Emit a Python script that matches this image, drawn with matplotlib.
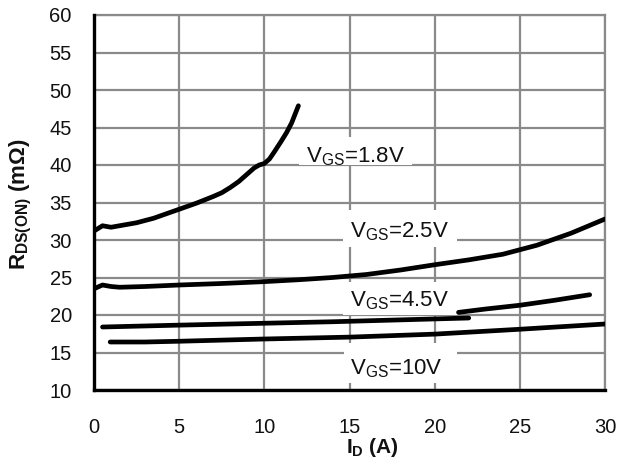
import numpy as np
import matplotlib
matplotlib.use('Agg')
import matplotlib.pyplot as plt
from matplotlib.patches import Rectangle

plt.rcParams['font.family'] = ['Liberation Sans', 'DejaVu Sans']
plt.rcParams['mathtext.fontset'] = 'custom'
plt.rcParams['mathtext.rm'] = 'Liberation Sans'
plt.rcParams['mathtext.bf'] = 'Liberation Sans:bold'
plt.rcParams['mathtext.it'] = 'Liberation Sans:italic'

# RDS(ON) vs ID
id_18 = [0.0, 0.5, 1.0, 1.5, 2.5, 3.5, 4.5, 5.0, 6.0, 7.0, 7.5, 8.0, 8.5, 9.0, 9.4,
         9.7, 10.0, 10.3, 10.6, 11.0, 11.3, 11.6, 12.0]
r_18 = [31.2, 31.9, 31.7, 31.9, 32.3, 32.9, 33.7, 34.1, 34.9, 35.8, 36.3, 37.0, 37.8,
        38.8, 39.6, 40.0, 40.2, 40.8, 41.8, 43.2, 44.3, 45.6, 47.9]

id_25 = [0.0, 0.5, 1.0, 1.5, 3.0, 5.0, 7.5, 10.0, 12.0, 14.0, 16.0, 18.0, 20.0, 22.0,
         24.0, 26.0, 28.0, 30.0]
r_25 = [23.5, 24.0, 23.8, 23.7, 23.8, 24.0, 24.2, 24.45, 24.7, 25.0, 25.4, 26.0, 26.7,
        27.35, 28.1, 29.3, 30.9, 32.8]

# the 4.5 V trace is drawn in two pieces in the original
id_45a = [0.5, 5.0, 10.0, 14.0, 18.0, 22.0]
r_45a = [18.4, 18.65, 18.9, 19.1, 19.35, 19.6]
id_45b = [21.4, 23.0, 25.0, 27.0, 29.1]
r_45b = [20.35, 20.8, 21.3, 21.95, 22.7]

id_10 = [0.95, 3.0, 5.0, 10.0, 15.0, 20.0, 25.0, 30.0]
r_10 = [16.4, 16.4, 16.5, 16.8, 17.05, 17.45, 18.1, 18.8]

labels = ['1.8V', '2.5V', '4.5V', '10V']
xticks = [0, 5, 10, 15, 20, 25, 30]
yticks = [10, 15, 20, 25, 30, 35, 40, 45, 50, 55, 60]

fig = plt.figure(figsize=(6.41, 4.59), dpi=100)
ax = fig.add_axes([94 / 641, 69 / 459, 511 / 641, 375 / 459])

for xs, ys in [(id_18, r_18), (id_25, r_25), (id_45a, r_45a), (id_45b, r_45b), (id_10, r_10)]:
    ax.plot(xs, ys, color='black', lw=3.4, solid_capstyle='round',
            solid_joinstyle='round', zorder=4)

ax.set_xlim(0, 30)
ax.set_ylim(10, 60)
ax.set_xticks(xticks)
ax.set_yticks(yticks)
ax.grid(True, color='#8a8a8a', lw=1.6, zorder=1)
ax.set_axisbelow(True)
ax.tick_params(axis='both', length=0, labelsize=14.5, colors='#111111')
ax.tick_params(axis='x', pad=20)
ax.tick_params(axis='y', pad=16)
for side in ['top', 'right']:
    ax.spines[side].set_color('#8a8a8a')
    ax.spines[side].set_linewidth(1.6)
for side in ['left', 'bottom']:
    ax.spines[side].set_color('black')
    ax.spines[side].set_linewidth(2.4)
    ax.spines[side].set_zorder(5)

# label boxes: (x0, x1, y0, y1) in data units, text anchor
boxes = [(12.05, 18.65, 40.05, 43.7), (14.6, 21.3, 29.05, 34.0),
         (14.6, 21.35, 20.0, 24.4), (14.65, 21.3, 10.9, 16.3)]
anchors = [(12.45, 40.35), (15.0, 30.3), (15.0, 21.1), (15.0, 12.05)]
for lab, (x0, x1, y0, y1), (tx, ty) in zip(labels, boxes, anchors):
    ax.add_patch(Rectangle((x0, y0), x1 - x0, y1 - y0, fc='white', ec='none', zorder=3))
    ax.text(tx, ty, r'V$_{\mathregular{GS}}$=' + lab, fontsize=16, color='#111111',
            ha='left', va='baseline', zorder=6)

fig.text(25 / 641, 1 - 204 / 459, r'$\mathbf{R_{DS(ON)}}$ (mΩ)', rotation=90,
         fontsize=16, fontweight='bold', ha='center', va='baseline',
         rotation_mode='anchor', color='#111111')
fig.text(372 / 641, 6 / 459, r'$\mathbf{I_D}$ (A)', fontsize=15, fontweight='bold',
         ha='center', va='baseline', color='#111111')

fig.savefig('out.png', dpi=100)
